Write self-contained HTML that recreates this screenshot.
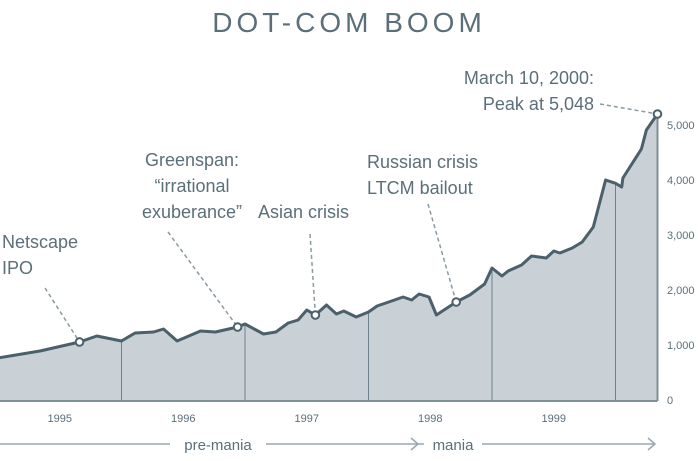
<!DOCTYPE html>
<html><head><meta charset="utf-8"><style>
body{margin:0;background:#fff;}
svg text{font-family:"Liberation Sans",sans-serif;fill:#5b6f79;}
</style></head><body>
<svg width="698" height="456" viewBox="0 0 698 456">
<text x="349" y="32" text-anchor="middle" font-size="28" letter-spacing="4">DOT-COM BOOM</text>
<g id="plot"></g>
</svg>
<script>
const dates=[1995.0,1995.34,1995.66,1995.80,1996.00,1996.11,1996.26,1996.34,1996.45,1996.64,1996.76,1996.94,1997.00,1997.15,1997.25,1997.35,1997.43,1997.50,1997.57,1997.66,1997.74,1997.80,1997.90,1998.00,1998.07,1998.28,1998.35,1998.41,1998.49,1998.55,1998.71,1998.82,1998.94,1999.00,1999.08,1999.13,1999.24,1999.32,1999.44,1999.50,1999.55,1999.65,1999.73,1999.82,1999.92,2000.00,2000.05,2000.06,2000.21,2000.25,2000.34];
const values=[764,891,1055,1164,1073,1218,1236,1291,1073,1255,1236,1327,1382,1200,1236,1400,1455,1636,1545,1727,1564,1618,1509,1600,1709,1873,1818,1927,1873,1545,1782,1909,2109,2400,2255,2345,2455,2618,2582,2709,2673,2764,2873,3145,4000,3940,3873,4036,4564,4909,5200];
const yTicks=[0,1000,2000,3000,4000,5000];
const yTickLabels=["0","1,000","2,000","3,000","4,000","5,000"];
const years=[1995,1996,1997,1998,1999];
const events=[
 {name:"netscape-ipo",d:1995.66,lines:["Netscape","IPO"],lx:2,ly:[248,274],anchor:"start",from:[45,288]},
 {name:"greenspan",d:1996.94,lines:["Greenspan:","“irrational","exuberance”"],lx:192,ly:[166,192,218],anchor:"middle",from:[168,232]},
 {name:"asian-crisis",d:1997.57,lines:["Asian crisis"],lx:258,ly:[218],anchor:"start",from:[310,234]},
 {name:"russian-crisis",d:1998.71,lines:["Russian crisis","LTCM bailout"],lx:367,ly:[168,194],anchor:"start",from:[428,204]},
 {name:"peak",d:2000.34,lines:["March 10, 2000:","Peak at 5,048"],lx:594,ly:[84,110],anchor:"end",from:[600,104]}
];
const X=d=>-2+(d-1995)*123.5;
const Y=v=>400-v*0.055;
const NS="http://www.w3.org/2000/svg";
const g=document.getElementById('plot');
function mk(t,a,p){const e=document.createElementNS(NS,t);for(const k in a)e.setAttribute(k,a[k]);(p||g).appendChild(e);return e;}
let pts=dates.map((d,i)=>X(d).toFixed(1)+","+Y(values[i]).toFixed(1));
const area=mk('path',{d:"M"+X(dates[0])+","+Y(0)+" L"+pts.join(" L")+" L"+X(dates[dates.length-1])+","+Y(0)+"Z",fill:"#c9d1d6"});


for(let yr=1996;yr<=2000;yr++){
 let x=X(yr),i=dates.findIndex(d=>d>=yr);
 let v=values[i-1]+(values[i]-values[i-1])*(yr-dates[i-1])/(dates[i]-dates[i-1]);
 const l=mk('line',{x1:x,x2:x,y1:Y(0),y2:Y(v),stroke:"#6d818a","stroke-width":1});
 
 
}
const line=mk('polyline',{points:pts.join(" "),fill:"none",stroke:"#4b606a","stroke-width":3,"stroke-linejoin":"round"});


const base=mk('line',{x1:0,x2:X(2000.34),y1:401,y2:401,stroke:"#7d8f98","stroke-width":2});


const ra=mk('line',{x1:X(2000.34),x2:X(2000.34),y1:Y(5200),y2:401,stroke:"#7d8f98","stroke-width":2});


yTicks.forEach((v,i)=>{
 const t=mk('text',{x:667,y:Y(v)+4,"font-size":11});t.textContent=yTickLabels[i];
 
 
});
years.forEach(yr=>{
 const t=mk('text',{x:X(yr+0.5),y:422,"font-size":11,"text-anchor":"middle"});t.textContent=yr;
 
 
});
events.forEach(e=>{
 let i=dates.indexOf(e.d),px=X(e.d),py=Y(values[i]);
 const dl=mk('line',{x1:e.from[0],y1:e.from[1],x2:px,y2:py,stroke:"#8a9aa2","stroke-width":1.5,"stroke-dasharray":"4,3"});
 
 
 const c=mk('circle',{cx:px,cy:py,r:3.8,fill:"#fff",stroke:"#4b606a","stroke-width":2});
 
 
 e.lines.forEach((s,k)=>{
  const t=mk('text',{x:e.lx,y:e.ly[k],"font-size":18,"text-anchor":e.anchor});t.textContent=s;
  
  
 });
});
const pl=mk('line',{x1:0,x2:170,y1:444,y2:444,stroke:"#9aa8af","stroke-width":1.5});


const pt=mk('text',{x:218,y:450,"font-size":15,"text-anchor":"middle"});pt.textContent="pre-mania";


const ml=mk('line',{x1:266,x2:655,y1:444,y2:444,stroke:"#9aa8af","stroke-width":1.5});


const bg=mk('rect',{x:424,y:434,width:58,height:18,fill:"#fff"});


const mt=mk('text',{x:453,y:450,"font-size":15,"text-anchor":"middle"});mt.textContent="mania";


const ah1=mk('polyline',{points:"411,438 418,444 411,450",fill:"none",stroke:"#9aa8af","stroke-width":1.5});


const ah2=mk('polyline',{points:"648,438 655,444 648,450",fill:"none",stroke:"#9aa8af","stroke-width":1.5});


</script>
</body></html>
